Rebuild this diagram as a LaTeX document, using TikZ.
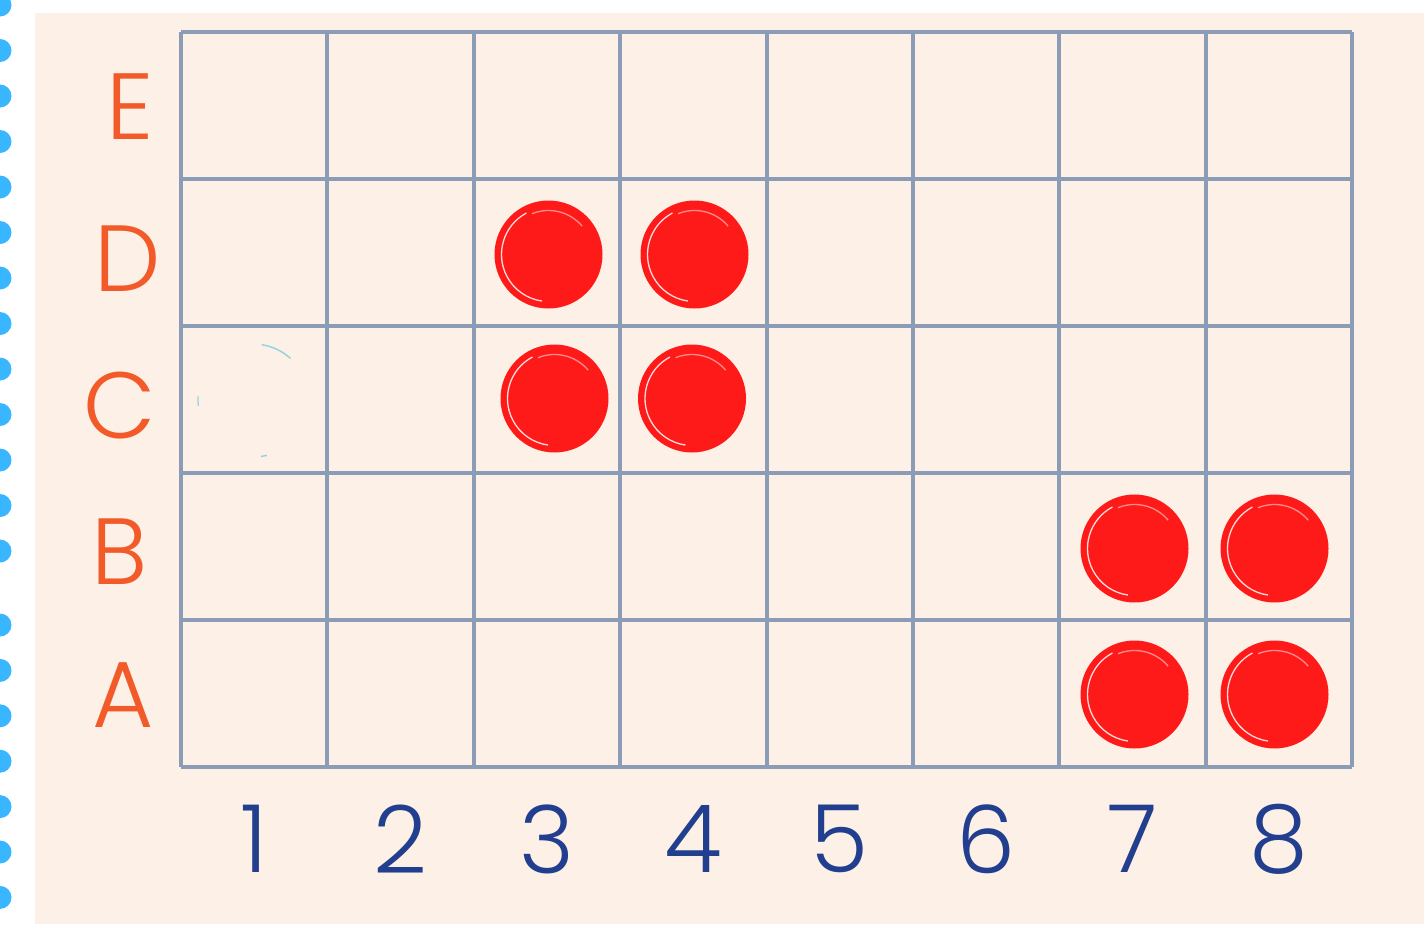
\documentclass[tikz,border=0pt]{standalone}
\usepackage{fontspec}
\setmainfont{Poppins}[UprightFont=* Light]
\definecolor{bg}{HTML}{FDF0E6}
\definecolor{dotblue}{HTML}{38B6FF}
\definecolor{gridc}{HTML}{8B9CB7}
\definecolor{lettc}{HTML}{F25A29}
\definecolor{numc}{HTML}{213F8E}
\definecolor{chip}{HTML}{FF1A1A}
\definecolor{faint}{HTML}{8FD3E0}
\begin{document}
\begin{tikzpicture}[x=1pt,y=-1pt,
  rowlab/.style={inner sep=0pt,text=lettc,font=\fontsize{94}{94}\selectfont},
  collab/.style={inner sep=0pt,text=numc,font=\fontsize{94}{94}\selectfont},
  gridline/.style={draw=gridc,line width=4pt},
  chipdot/.style={fill=chip},
  sketch/.style={draw=white,line width=1.3pt,opacity=0.85}]
\useasboundingbox (0,0) rectangle (1424,924);
\clip (0,0) rectangle (1424,924);
\fill[white] (0,0) rectangle (1424,924);
\fill[bg] (35,13) rectangle (1424,924);
% binder dots
\foreach \k in {0,...,12} \fill[dotblue] (0,{5+45.5*\k}) circle (11.5);
\foreach \k in {0,...,6} \fill[dotblue] (0,{625+45.4*\k}) circle (11.5);
% grid
\foreach \i in {0,...,8} \draw[gridline] ({181+146.375*\i},32) -- ({181+146.375*\i},767);
\foreach \j in {0,...,5} \draw[gridline] (181,{32+147*\j}) -- (1352,{32+147*\j});
% faint circle in C1
\draw[faint,line width=1.4pt] (253,400) ++(-81:56) arc[start angle=-81,end angle=-48,radius=56];
\draw[faint,line width=1.2pt] (253,400) ++(-176:55) arc[start angle=-176,end angle=-186,radius=55];
\draw[faint,line width=1.4pt] (253,400) ++(76:57) arc[start angle=76,end angle=82,radius=57];
% chips
\foreach \cx/\cy in {548.5/254.5,694.5/254.5,554.5/398.5,692/398.5,1134.5/548.5,1274.5/548.5,1134.5/694.5,1274.5/694.5}{
  \fill[chipdot] (\cx,\cy) circle (54);
  \draw[sketch] (\cx,\cy) ++(-118:47) arc[start angle=-118,end angle=-262,radius=47];
  \draw[sketch,opacity=0.5] (\cx,\cy) ++(-112:44) arc[start angle=-112,end angle=-40,radius=44];
}
% row labels
\node[rowlab] (E) at (130,107) {E};
\node[rowlab] (D) at (128,259) {D};
\node[rowlab] (C) at (120,406) {C};
\node[rowlab] (B) at (120,552) {B};
\node[rowlab] (A) at (123,695) {A};
% column labels
\foreach \n in {1,...,8} \node[collab] (n\n) at ({181+146.375*(\n-0.5)},839) {\n};
\end{tikzpicture}
\end{document}
